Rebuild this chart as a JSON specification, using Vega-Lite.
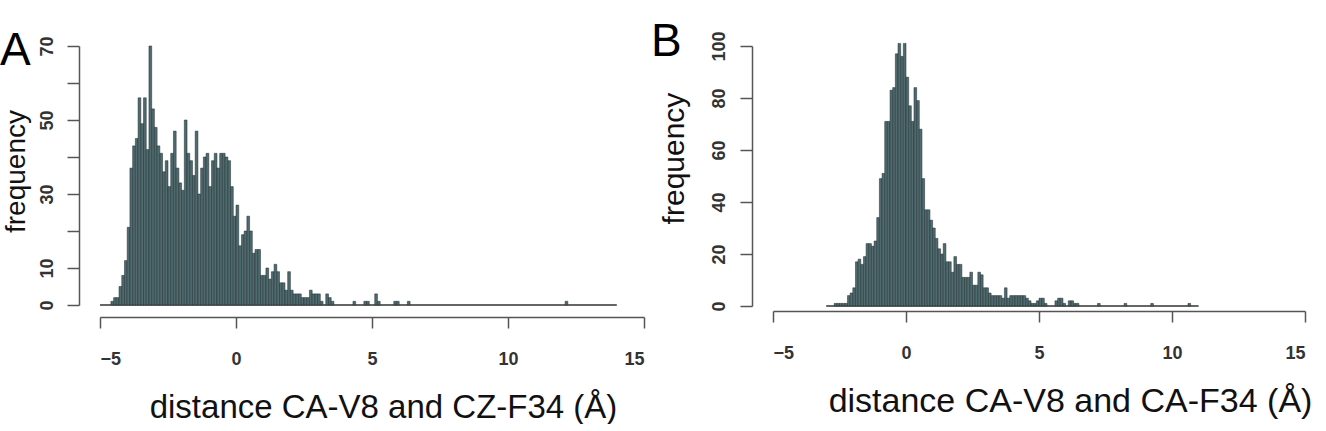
{
  "$schema": "https://vega.github.io/schema/vega-lite/v6.json",
  "background": "white",
  "padding": {"left": 0, "top": 18, "right": 0, "bottom": 0},
  "spacing": 6,
  "config": {
    "view": {"stroke": null},
    "font": "Liberation Sans",
    "axis": {
      "grid": false,
      "domainColor": "#555",
      "domainWidth": 1.5,
      "tickColor": "#555",
      "tickWidth": 1.5,
      "labelColor": "#333",
      "labelFont": "Liberation Sans",
      "labelFontSize": 18,
      "labelFontWeight": "bold",
      "labelOverlap": false,
      "titleFont": "Liberation Sans",
      "titleFontWeight": "normal",
      "titleColor": "#111"
    },
    "title": {"font": "Liberation Sans", "fontWeight": "normal", "color": "#000"}
  },
  "datasets": {
    "histA": [
      {"lo": -4.6, "hi": -4.5, "n": 1}, {"lo": -4.5, "hi": -4.4, "n": 2}, {"lo": -4.4, "hi": -4.3, "n": 2},
      {"lo": -4.3, "hi": -4.2, "n": 5}, {"lo": -4.2, "hi": -4.1, "n": 8}, {"lo": -4.1, "hi": -4.0, "n": 12},
      {"lo": -4.0, "hi": -3.9, "n": 21}, {"lo": -3.9, "hi": -3.8, "n": 37}, {"lo": -3.8, "hi": -3.7, "n": 43},
      {"lo": -3.7, "hi": -3.6, "n": 45}, {"lo": -3.6, "hi": -3.5, "n": 56}, {"lo": -3.5, "hi": -3.4, "n": 49},
      {"lo": -3.4, "hi": -3.3, "n": 56}, {"lo": -3.3, "hi": -3.2, "n": 42}, {"lo": -3.2, "hi": -3.1, "n": 70},
      {"lo": -3.1, "hi": -3.0, "n": 53}, {"lo": -3.0, "hi": -2.9, "n": 48}, {"lo": -2.9, "hi": -2.8, "n": 43},
      {"lo": -2.8, "hi": -2.7, "n": 41}, {"lo": -2.7, "hi": -2.6, "n": 36}, {"lo": -2.6, "hi": -2.5, "n": 39},
      {"lo": -2.5, "hi": -2.4, "n": 32}, {"lo": -2.4, "hi": -2.3, "n": 41}, {"lo": -2.3, "hi": -2.2, "n": 47},
      {"lo": -2.2, "hi": -2.1, "n": 37}, {"lo": -2.1, "hi": -2.0, "n": 33}, {"lo": -2.0, "hi": -1.9, "n": 31},
      {"lo": -1.9, "hi": -1.8, "n": 50}, {"lo": -1.8, "hi": -1.7, "n": 41}, {"lo": -1.7, "hi": -1.6, "n": 39},
      {"lo": -1.6, "hi": -1.5, "n": 35}, {"lo": -1.5, "hi": -1.4, "n": 47}, {"lo": -1.4, "hi": -1.3, "n": 30},
      {"lo": -1.3, "hi": -1.2, "n": 37}, {"lo": -1.2, "hi": -1.1, "n": 40}, {"lo": -1.1, "hi": -1.0, "n": 41},
      {"lo": -1.0, "hi": -0.9, "n": 32}, {"lo": -0.9, "hi": -0.8, "n": 39}, {"lo": -0.8, "hi": -0.7, "n": 41},
      {"lo": -0.7, "hi": -0.6, "n": 37}, {"lo": -0.6, "hi": -0.5, "n": 41}, {"lo": -0.5, "hi": -0.4, "n": 41},
      {"lo": -0.4, "hi": -0.3, "n": 40}, {"lo": -0.3, "hi": -0.2, "n": 39}, {"lo": -0.2, "hi": -0.1, "n": 32},
      {"lo": -0.1, "hi": 0.0, "n": 24}, {"lo": 0.0, "hi": 0.1, "n": 27}, {"lo": 0.1, "hi": 0.2, "n": 16},
      {"lo": 0.2, "hi": 0.3, "n": 19}, {"lo": 0.3, "hi": 0.4, "n": 20}, {"lo": 0.4, "hi": 0.5, "n": 24},
      {"lo": 0.5, "hi": 0.6, "n": 20}, {"lo": 0.6, "hi": 0.7, "n": 14}, {"lo": 0.7, "hi": 0.8, "n": 15},
      {"lo": 0.8, "hi": 0.9, "n": 15}, {"lo": 0.9, "hi": 1.0, "n": 8}, {"lo": 1.0, "hi": 1.1, "n": 8},
      {"lo": 1.1, "hi": 1.2, "n": 10}, {"lo": 1.2, "hi": 1.3, "n": 7}, {"lo": 1.3, "hi": 1.4, "n": 9},
      {"lo": 1.4, "hi": 1.5, "n": 11}, {"lo": 1.5, "hi": 1.6, "n": 9}, {"lo": 1.6, "hi": 1.7, "n": 6},
      {"lo": 1.7, "hi": 1.8, "n": 6}, {"lo": 1.8, "hi": 1.9, "n": 4}, {"lo": 1.9, "hi": 2.0, "n": 9},
      {"lo": 2.0, "hi": 2.1, "n": 4}, {"lo": 2.1, "hi": 2.2, "n": 3}, {"lo": 2.2, "hi": 2.3, "n": 3},
      {"lo": 2.3, "hi": 2.4, "n": 3}, {"lo": 2.4, "hi": 2.5, "n": 2}, {"lo": 2.5, "hi": 2.6, "n": 2},
      {"lo": 2.6, "hi": 2.7, "n": 2}, {"lo": 2.7, "hi": 2.8, "n": 4}, {"lo": 2.8, "hi": 2.9, "n": 3},
      {"lo": 2.9, "hi": 3.0, "n": 3}, {"lo": 3.0, "hi": 3.1, "n": 3}, {"lo": 3.1, "hi": 3.2, "n": 1},
      {"lo": 3.3, "hi": 3.4, "n": 3}, {"lo": 3.4, "hi": 3.5, "n": 2}, {"lo": 3.5, "hi": 3.6, "n": 1},
      {"lo": 4.3, "hi": 4.4, "n": 1}, {"lo": 4.7, "hi": 4.8, "n": 1}, {"lo": 4.8, "hi": 4.9, "n": 1},
      {"lo": 5.1, "hi": 5.2, "n": 3}, {"lo": 5.2, "hi": 5.3, "n": 1}, {"lo": 5.8, "hi": 5.9, "n": 1},
      {"lo": 5.9, "hi": 6.0, "n": 1}, {"lo": 6.3, "hi": 6.4, "n": 1}, {"lo": 12.1, "hi": 12.2, "n": 1}
    ],
    "histB": [
      {"lo": -2.7, "hi": -2.6, "n": 1}, {"lo": -2.6, "hi": -2.5, "n": 1}, {"lo": -2.5, "hi": -2.4, "n": 1},
      {"lo": -2.4, "hi": -2.3, "n": 1}, {"lo": -2.3, "hi": -2.2, "n": 1}, {"lo": -2.2, "hi": -2.1, "n": 4},
      {"lo": -2.1, "hi": -2.0, "n": 5}, {"lo": -2.0, "hi": -1.9, "n": 7}, {"lo": -1.9, "hi": -1.8, "n": 17},
      {"lo": -1.8, "hi": -1.7, "n": 18}, {"lo": -1.7, "hi": -1.6, "n": 16}, {"lo": -1.6, "hi": -1.5, "n": 19},
      {"lo": -1.5, "hi": -1.4, "n": 24}, {"lo": -1.4, "hi": -1.3, "n": 24}, {"lo": -1.3, "hi": -1.2, "n": 23},
      {"lo": -1.2, "hi": -1.1, "n": 25}, {"lo": -1.1, "hi": -1.0, "n": 34}, {"lo": -1.0, "hi": -0.9, "n": 49},
      {"lo": -0.9, "hi": -0.8, "n": 51}, {"lo": -0.8, "hi": -0.7, "n": 71}, {"lo": -0.7, "hi": -0.6, "n": 71},
      {"lo": -0.6, "hi": -0.5, "n": 83}, {"lo": -0.5, "hi": -0.4, "n": 84}, {"lo": -0.4, "hi": -0.3, "n": 97},
      {"lo": -0.3, "hi": -0.2, "n": 101}, {"lo": -0.2, "hi": -0.1, "n": 96}, {"lo": -0.1, "hi": 0.0, "n": 101},
      {"lo": 0.0, "hi": 0.1, "n": 88}, {"lo": 0.1, "hi": 0.2, "n": 77}, {"lo": 0.2, "hi": 0.3, "n": 71},
      {"lo": 0.3, "hi": 0.4, "n": 84}, {"lo": 0.4, "hi": 0.5, "n": 79}, {"lo": 0.5, "hi": 0.6, "n": 68},
      {"lo": 0.6, "hi": 0.7, "n": 49}, {"lo": 0.7, "hi": 0.8, "n": 37}, {"lo": 0.8, "hi": 0.9, "n": 37},
      {"lo": 0.9, "hi": 1.0, "n": 33}, {"lo": 1.0, "hi": 1.1, "n": 30}, {"lo": 1.1, "hi": 1.2, "n": 26},
      {"lo": 1.2, "hi": 1.3, "n": 22}, {"lo": 1.3, "hi": 1.4, "n": 20}, {"lo": 1.4, "hi": 1.5, "n": 24},
      {"lo": 1.5, "hi": 1.6, "n": 17}, {"lo": 1.6, "hi": 1.7, "n": 17}, {"lo": 1.7, "hi": 1.8, "n": 13},
      {"lo": 1.8, "hi": 1.9, "n": 19}, {"lo": 1.9, "hi": 2.0, "n": 16}, {"lo": 2.0, "hi": 2.1, "n": 16},
      {"lo": 2.1, "hi": 2.2, "n": 11}, {"lo": 2.2, "hi": 2.3, "n": 11}, {"lo": 2.3, "hi": 2.4, "n": 11},
      {"lo": 2.4, "hi": 2.5, "n": 13}, {"lo": 2.5, "hi": 2.6, "n": 8}, {"lo": 2.6, "hi": 2.7, "n": 8},
      {"lo": 2.7, "hi": 2.8, "n": 13}, {"lo": 2.8, "hi": 2.9, "n": 12}, {"lo": 2.9, "hi": 3.0, "n": 7},
      {"lo": 3.0, "hi": 3.1, "n": 7}, {"lo": 3.1, "hi": 3.2, "n": 5}, {"lo": 3.2, "hi": 3.3, "n": 4},
      {"lo": 3.3, "hi": 3.4, "n": 4}, {"lo": 3.4, "hi": 3.5, "n": 4}, {"lo": 3.5, "hi": 3.6, "n": 4},
      {"lo": 3.6, "hi": 3.7, "n": 3}, {"lo": 3.7, "hi": 3.8, "n": 7}, {"lo": 3.8, "hi": 3.9, "n": 3},
      {"lo": 3.9, "hi": 4.0, "n": 4}, {"lo": 4.0, "hi": 4.1, "n": 4}, {"lo": 4.1, "hi": 4.2, "n": 4},
      {"lo": 4.2, "hi": 4.3, "n": 4}, {"lo": 4.3, "hi": 4.4, "n": 4}, {"lo": 4.4, "hi": 4.5, "n": 4},
      {"lo": 4.5, "hi": 4.6, "n": 3}, {"lo": 4.6, "hi": 4.7, "n": 2}, {"lo": 4.7, "hi": 4.8, "n": 1},
      {"lo": 4.8, "hi": 4.9, "n": 1}, {"lo": 4.9, "hi": 5.0, "n": 2}, {"lo": 5.0, "hi": 5.1, "n": 3},
      {"lo": 5.1, "hi": 5.2, "n": 3}, {"lo": 5.2, "hi": 5.3, "n": 1}, {"lo": 5.6, "hi": 5.7, "n": 2},
      {"lo": 5.7, "hi": 5.8, "n": 3}, {"lo": 5.8, "hi": 5.9, "n": 3}, {"lo": 5.9, "hi": 6.0, "n": 1},
      {"lo": 6.1, "hi": 6.2, "n": 2}, {"lo": 6.2, "hi": 6.3, "n": 2}, {"lo": 6.3, "hi": 6.4, "n": 1},
      {"lo": 6.4, "hi": 6.5, "n": 1}, {"lo": 7.2, "hi": 7.3, "n": 1}, {"lo": 8.2, "hi": 8.3, "n": 1},
      {"lo": 9.2, "hi": 9.3, "n": 1}, {"lo": 10.6, "hi": 10.7, "n": 1}
    ],
    "baseA": [{"from": -5, "to": 14, "n": 0}],
    "baseB": [{"from": -3, "to": 11, "n": 0}]
  },
  "hconcat": [
    {
      "width": 544,
      "height": 259,
      "title": {"text": "A", "anchor": "start", "frame": "group", "fontSize": 46, "baseline": "alphabetic", "offset": 0, "dx": -100, "dy": 75},
      "encoding": {
        "y": {"field": "n", "type": "quantitative", "scale": {"domain": [0, 70], "nice": false},
          "axis": {"values": [0, 10, 20, 30, 40, 50, 60, 70], "labelOverlap": false, "labelExpr": "(datum.value == 20 || datum.value == 40 || datum.value == 60) ? '' : datum.label", "offset": 21, "tickSize": 12, "labelPadding": 11, "labelAngle": -90, "labelAlign": "center", "labelBaseline": "bottom", "title": "frequency", "titleFontSize": 28, "titlePadding": 8, "titleY": 125}}
      },
      "layer": [
        {
          "data": {"name": "baseA"},
          "mark": {"type": "rule", "color": "#333", "strokeWidth": 1.5},
          "encoding": {
            "x": {"field": "from", "type": "quantitative", "scale": {"domain": [-5, 15], "nice": false, "zero": false},
              "axis": {"values": [-5, 0, 5, 10, 15], "offset": 12, "tickSize": 11, "labelPadding": 22, "title": "distance CA-V8 and CZ-F34 (Å)", "titleFontSize": 33, "titlePadding": 23, "titleX": 283, "titleAnchor": "middle"}},
            "x2": {"field": "to"}
          }
        },
        {
          "data": {"name": "histA"},
          "mark": {"type": "rect", "fill": "#4f6b6f", "stroke": "#1f2b2d", "strokeWidth": 0.5},
          "encoding": {
            "x": {"field": "lo", "type": "quantitative", "scale": {"domain": [-5, 15], "nice": false, "zero": false},
              "axis": {"values": [-5, 0, 5, 10, 15], "offset": 12, "tickSize": 11, "labelPadding": 22, "title": "distance CA-V8 and CZ-F34 (Å)", "titleFontSize": 33, "titlePadding": 23, "titleX": 283, "titleAnchor": "middle"}},
            "x2": {"field": "hi"},
            "y2": {"datum": 0}
          }
        }
      ]
    },
    {
      "width": 532,
      "height": 260,
      "title": {"text": "B", "anchor": "start", "frame": "group", "fontSize": 46, "baseline": "alphabetic", "offset": 0, "dx": -122, "dy": 71},
      "encoding": {
        "y": {"field": "n", "type": "quantitative", "scale": {"domain": [0, 100], "nice": false},
          "axis": {"values": [0, 20, 40, 60, 80, 100], "labelOverlap": false, "offset": 21, "tickSize": 12, "labelPadding": 12, "labelAngle": -90, "labelAlign": "center", "labelBaseline": "bottom", "title": "frequency", "titleFontSize": 30, "titlePadding": 21, "titleY": 112}}
      },
      "layer": [
        {
          "data": {"name": "baseB"},
          "mark": {"type": "rule", "color": "#333", "strokeWidth": 1.5},
          "encoding": {
            "x": {"field": "from", "type": "quantitative", "scale": {"domain": [-5, 15], "nice": false, "zero": false},
              "axis": {"values": [-5, 0, 5, 10, 15], "offset": 5, "tickSize": 11, "labelPadding": 22, "title": "distance CA-V8 and CA-F34 (Å)", "titleFontSize": 34, "titlePadding": 22, "titleX": 297, "titleAnchor": "middle"}},
            "x2": {"field": "to"}
          }
        },
        {
          "data": {"name": "histB"},
          "mark": {"type": "rect", "fill": "#4f6b6f", "stroke": "#1f2b2d", "strokeWidth": 0.5, "clip": false},
          "encoding": {
            "x": {"field": "lo", "type": "quantitative", "scale": {"domain": [-5, 15], "nice": false, "zero": false},
              "axis": {"values": [-5, 0, 5, 10, 15], "offset": 5, "tickSize": 11, "labelPadding": 22, "title": "distance CA-V8 and CA-F34 (Å)", "titleFontSize": 34, "titlePadding": 22, "titleX": 297, "titleAnchor": "middle"}},
            "x2": {"field": "hi"},
            "y2": {"datum": 0}
          }
        }
      ]
    }
  ]
}
